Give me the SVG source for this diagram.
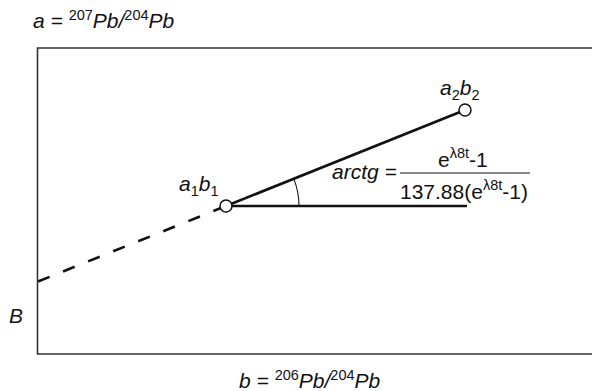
<svg xmlns="http://www.w3.org/2000/svg" width="592" height="391" viewBox="0 0 592 391">
<style>
text{font-family:"Liberation Sans",Arial,sans-serif;font-size:21px;fill:#111}
.i{font-style:italic}
.s{font-size:14.5px;font-style:normal}
.frame{fill:none;stroke:#333;stroke-width:1.6}
.heavy{stroke:#111;stroke-width:2.6;fill:none}
.pt{fill:#fff;stroke:#111;stroke-width:1.5}
</style>
<rect width="592" height="391" fill="#fff"/>
<g id="axes">
<path class="frame" d="M592 48 H37.5 V354 H592"/>
</g>
<g id="connectors">
<line class="heavy" x1="226" y1="206" x2="465" y2="110"/>
<line class="heavy" x1="226" y1="206" x2="467" y2="206"/>
<line class="heavy" x1="38" y1="281.5" x2="226" y2="206" stroke-dasharray="12.5 14.5"/>
<path d="M299 206 A73 73 0 0 0 293.8 178.9" fill="none" stroke="#111" stroke-width="1.1"/>
</g>
<g id="node-a1b1">
<circle class="pt" cx="226" cy="206" r="6"/>
<text class="i" x="179" y="191">a<tspan class="s" dy="5">1</tspan><tspan dy="-5">b</tspan><tspan class="s" dy="5">1</tspan></text>
</g>
<g id="node-a2b2">
<circle class="pt" cx="465" cy="110" r="6"/>
<text class="i" x="440" y="95">a<tspan class="s" dy="5">2</tspan><tspan dy="-5">b</tspan><tspan class="s" dy="5">2</tspan></text>
</g>
<g id="formula">
<text class="i" x="332" y="179">arctg =</text>
<line x1="400" y1="173" x2="530" y2="173" stroke="#111" stroke-width="1.2"/>
<text x="438" y="167">e<tspan class="s" dy="-9">λ8t</tspan><tspan dy="9">-1</tspan></text>
<text x="400" y="199">137.88(e<tspan class="s" dy="-9">λ8t</tspan><tspan dy="9">-1)</tspan></text>
</g>
<g id="labels">
<text class="i" x="33" y="28">a = <tspan class="s" dy="-8">207</tspan><tspan dy="8">Pb/</tspan><tspan class="s" dy="-8">204</tspan><tspan dy="8">Pb</tspan></text>
<text class="i" x="9" y="323">B</text>
<text class="i" x="239" y="388">b = <tspan class="s" dy="-8">206</tspan><tspan dy="8">Pb/</tspan><tspan class="s" dy="-8">204</tspan><tspan dy="8">Pb</tspan></text>
</g>
</svg>
